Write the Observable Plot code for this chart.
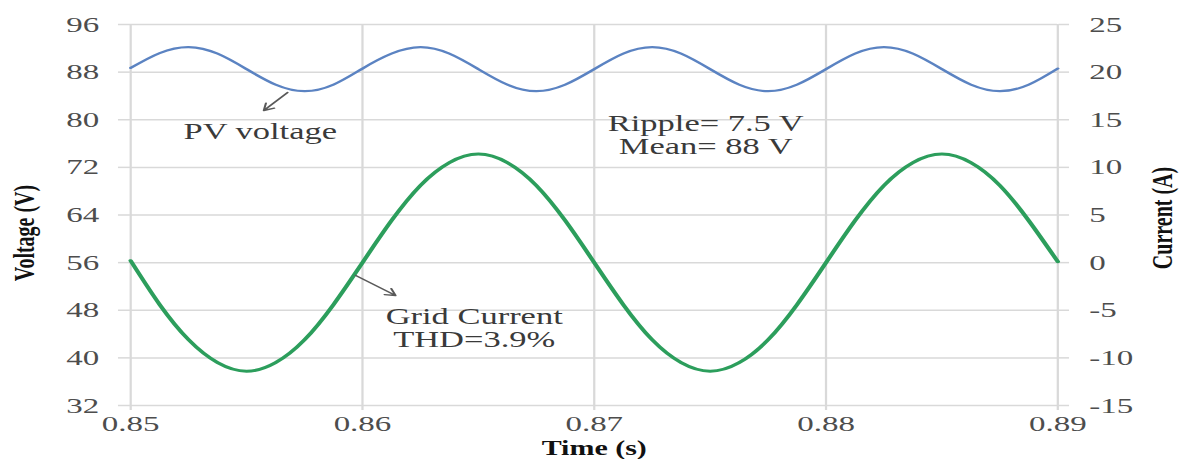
<!DOCTYPE html>
<html>
<head>
<meta charset="utf-8">
<script src="https://cdn.jsdelivr.net/npm/d3@7"></script>
<script src="https://cdn.jsdelivr.net/npm/@observablehq/plot@0.6"></script>
<style>
  html, body { margin: 0; padding: 0; background: #fff; overflow: hidden; }
  #chart svg { display: block; transform-origin: 0 0; }
</style>
</head>
<body>
<div id="chart"></div>
<script>
// ---- data ----
const time = [0.85, 0.85125, 0.8525, 0.85375, 0.855, 0.85625, 0.8575, 0.85875,
  0.86, 0.86125, 0.8625, 0.86375, 0.865, 0.86625, 0.8675, 0.86875,
  0.87, 0.87125, 0.8725, 0.87375, 0.875, 0.87625, 0.8775, 0.87875,
  0.88, 0.88125, 0.8825, 0.88375, 0.885, 0.88625, 0.8875, 0.88875, 0.89];

// PV voltage (V), left axis
const pvVoltage = [88.7, 91.2, 92.2, 91.1, 88.5, 85.9, 84.8, 85.9,
  88.6, 91.1, 92.2, 91.1, 88.5, 85.9, 84.8, 85.9,
  88.5, 91.1, 92.2, 91.1, 88.5, 85.9, 84.8, 85.9,
  88.5, 91.1, 92.2, 91.1, 88.5, 85.9, 84.8, 85.9, 88.6];

// Grid current (A), right axis
const gridCurrent = [0.2, -4.4, -8.1, -10.5, -11.4, -10.5, -8.1, -4.4,
  0, 4.4, 8.1, 10.5, 11.4, 10.5, 8.1, 4.4,
  0, -4.4, -8.1, -10.5, -11.4, -10.5, -8.1, -4.4,
  0, 4.4, 8.1, 10.5, 11.4, 10.5, 8.1, 4.4, 0.1];

const timeTicks = [0.85, 0.86, 0.87, 0.88, 0.89];
const voltageTicks = [32, 40, 48, 56, 64, 72, 80, 88, 96];
const currentTicks = [-15, -10, -5, 0, 5, 10, 15, 20, 25];

const annotations = [
  {t: 0.85559, v: 78.03, label: "PV voltage"},
  {t: 0.87481, v: 77.44, label: "Ripple= 7.5 V\nMean= 88 V"},
  {t: 0.86482, v: 44.93, label: "Grid Current\nTHD=3.9%"}
];
const arrows = [
  {t1: 0.85677, v1: 84.58, t2: 0.85574, v2: 81.55},
  {t1: 0.85971, v1: 53.84, t2: 0.86143, v2: 50.48}
];

// ---- build ----
// map current onto the voltage scale using the two axes' tick labels
const c0 = currentTicks[0], c1 = currentTicks[currentTicks.length - 1];
const v0 = voltageTicks[0], v1 = voltageTicks[voltageTicks.length - 1];
const currentToVoltage = c => v0 + (c - c0) * (v1 - v0) / (c1 - c0);

const rows = time.map((t, i) => ({t, pv: pvVoltage[i], cur: gridCurrent[i]}));

const W = 787, H = 459, STRETCH = 1180 / W;
const gridColor = "#d9d9d9";
const labelColor = "#4d4d4d";
const serif = "'Liberation Serif', 'Times New Roman', serif";

const plot = Plot.plot({
  width: W,
  height: H,
  marginLeft: 86.67,
  marginRight: 82,
  marginTop: 24,
  marginBottom: 54,
  style: {fontFamily: serif, fontSize: "22px", background: "#fff", overflow: "visible"},
  x: {domain: [0.85, 0.89], label: null},
  y: {domain: [v0, v1], label: null},
  marks: [
    Plot.gridX(timeTicks, {stroke: gridColor, strokeOpacity: 1, strokeWidth: 1.5}),
    Plot.gridY(voltageTicks, {stroke: gridColor, strokeOpacity: 1, strokeWidth: 1.5}),
    Plot.axisX(timeTicks, {tickSize: 5, tickPadding: 5, stroke: gridColor, strokeWidth: 1.5,
      fill: labelColor, tickFormat: d3.format(".2f"), label: null}),
    Plot.axisY(voltageTicks, {anchor: "left", tickSize: 8, tickPadding: 13, stroke: gridColor,
      strokeWidth: 1.5, fill: labelColor, tickFormat: d => String(d), label: null}),
    Plot.axisY(voltageTicks, {anchor: "right", tickSize: 7, tickPadding: 14, stroke: gridColor,
      strokeWidth: 1.5, fill: labelColor,
      tickFormat: d => String(currentTicks[voltageTicks.indexOf(d)]), label: null}),
    Plot.line(rows, {x: "t", y: "pv", stroke: "#5b83c2", strokeWidth: 2.2, curve: "natural"}),
    Plot.line(rows, {x: "t", y: d => currentToVoltage(d.cur), stroke: "#2c9e5c", strokeWidth: 3, curve: "natural"}),
    Plot.arrow(arrows, {x1: "t1", y1: "v1", x2: "t2", y2: "v2", stroke: "#595959",
      strokeWidth: 1.4, headLength: 8}),
    Plot.text(annotations, {x: "t", y: "v", text: "label", fill: "#3a3a3a", fontSize: 23,
      lineHeight: 1.0, textAnchor: "middle", lineAnchor: "middle", fontFamily: serif}),
    Plot.text(["Time (s)"], {frameAnchor: "bottom", dy: 43, fontSize: 20, fontWeight: "bold",
      fill: "#111", textAnchor: "middle", lineAnchor: "middle", fontFamily: serif}),
    Plot.text(["Voltage (V)"], {frameAnchor: "left", dx: -71, dy: 18, rotate: -90, fontSize: 20,
      fontWeight: "bold", fill: "#111", textAnchor: "middle", lineAnchor: "middle", fontFamily: serif}),
    Plot.text(["Current (A)"], {frameAnchor: "right", dx: 70, dy: 3, rotate: -90, fontSize: 20,
      fontWeight: "bold", fill: "#111", textAnchor: "middle", lineAnchor: "middle", fontFamily: serif})
  ]
});
plot.style.transform = `scaleX(${STRETCH})`;
plot.style.transformOrigin = "0 0";
plot.style.maxWidth = "none";
document.getElementById("chart").appendChild(plot);
</script>
</body>
</html>
